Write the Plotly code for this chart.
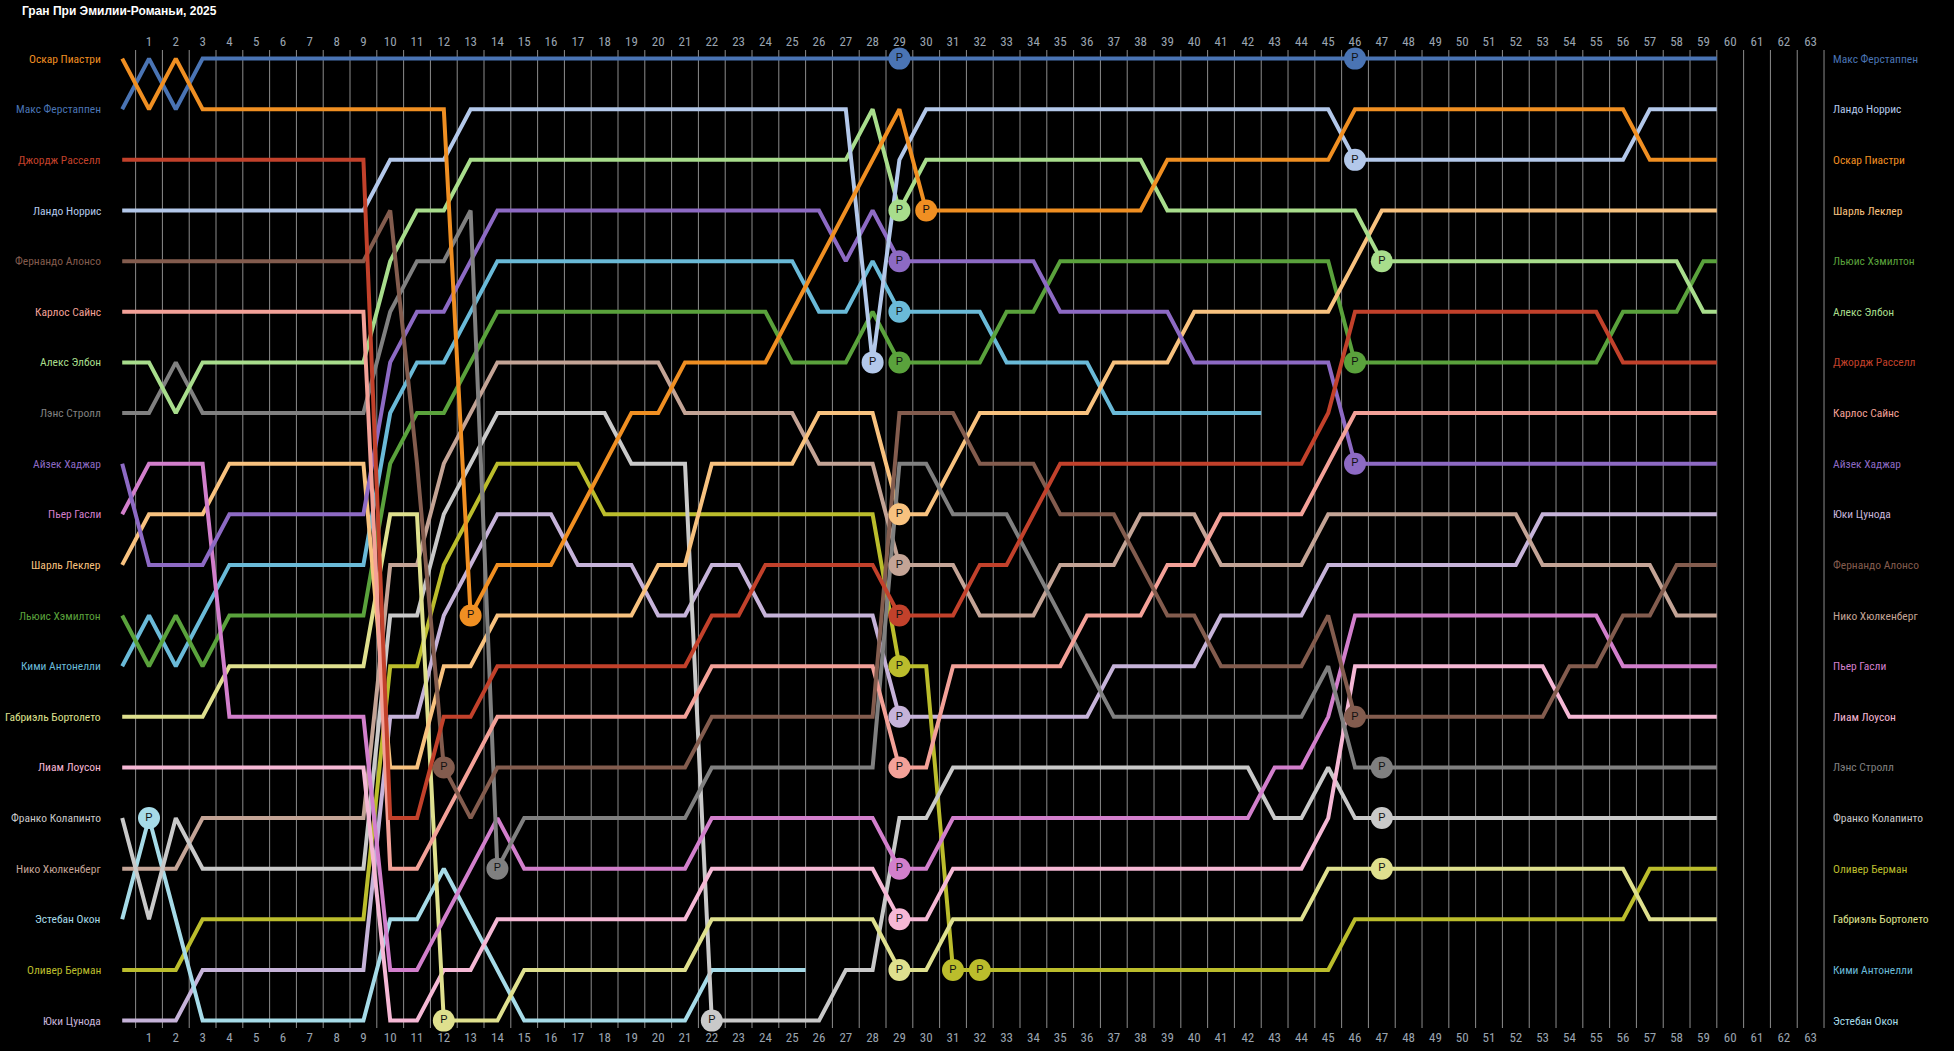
import plotly.graph_objects as go

title_text = "Гран При Эмилии-Романьи, 2025"

# grid order (lap 0)
drivers = ["Оскар Пиастри", "Макс Ферстаппен", "Джордж Расселл", "Ландо Норрис",
           "Фернандо Алонсо", "Карлос Сайнс", "Алекс Элбон", "Лэнс Стролл",
           "Айзек Хаджар", "Пьер Гасли", "Шарль Леклер", "Льюис Хэмилтон",
           "Кими Антонелли", "Габриэль Бортолето", "Лиам Лоусон", "Франко Колапинто",
           "Нико Хюлкенберг", "Эстебан Окон", "Оливер Берман", "Юки Цунода"]

final_order = ["Макс Ферстаппен", "Ландо Норрис", "Оскар Пиастри", "Шарль Леклер",
               "Льюис Хэмилтон", "Алекс Элбон", "Джордж Расселл", "Карлос Сайнс",
               "Айзек Хаджар", "Юки Цунода", "Фернандо Алонсо", "Нико Хюлкенберг",
               "Пьер Гасли", "Лиам Лоусон", "Лэнс Стролл", "Франко Колапинто",
               "Оливер Берман", "Габриэль Бортолето", "Кими Антонелли", "Эстебан Окон"]

lap_ticks = list(range(1, 64))

# positions by lap, starting at lap 0 (grid)
pos_piastri = [1,2,1,2,2,2,2,2,2,2, 2,2,2,12,11,11,11,10,9,8, 8,7,7,7,7,6,5,4,3,2,
               4,4,4,4,4,4,4,4,4,3, 3,3,3,3,3,3,2,2,2,2, 2,2,2,2,2,2,2,3,3,3]
pos_verstappen = [2,1,2,1,1,1,1,1,1,1, 1,1,1,1,1,1,1,1,1,1, 1,1,1,1,1,1,1,1,1,1,
                  1,1,1,1,1,1,1,1,1,1, 1,1,1,1,1,1,1,1,1,1, 1,1,1,1,1,1,1,1,1,1]
pos_russell = [3,3,3,3,3,3,3,3,3,3, 16,16,14,14,13,13,13,13,13,13, 13,13,12,12,11,11,11,11,11,12,
               12,12,11,11,10,9,9,9,9,9, 9,9,9,9,9,8,6,6,6,6, 6,6,6,6,6,6,7,7,7,7]
pos_norris = [4,4,4,4,4,4,4,4,4,4, 3,3,3,2,2,2,2,2,2,2, 2,2,2,2,2,2,2,2,7,3,
              2,2,2,2,2,2,2,2,2,2, 2,2,2,2,2,2,3,3,3,3, 3,3,3,3,3,3,3,2,2,2]
pos_alonso = [5,5,5,5,5,5,5,5,5,5, 4,9,15,16,15,15,15,15,15,15, 15,15,14,14,14,14,14,14,14,8,
              8,8,9,9,9,10,10,10,11,12, 12,13,13,13,13,12,14,14,14,14, 14,14,14,14,13,13,12,12,11,11]
pos_sainz = [6,6,6,6,6,6,6,6,6,6, 17,17,16,15,14,14,14,14,14,14, 14,14,13,13,13,13,13,13,13,15,
             15,13,13,13,13,13,12,12,12,11, 11,10,10,10,10,9,8,8,8,8, 8,8,8,8,8,8,8,8,8,8]
pos_albon = [7,7,8,7,7,7,7,7,7,7, 5,4,4,3,3,3,3,3,3,3, 3,3,3,3,3,3,3,3,2,4,
             3,3,3,3,3,3,3,3,3,4, 4,4,4,4,4,4,4,5,5,5, 5,5,5,5,5,5,5,5,5,6]
pos_stroll = [8,8,7,8,8,8,8,8,8,8, 6,5,5,4,17,16,16,16,16,16, 16,16,15,15,15,15,15,15,15,9,
              9,10,10,10,11,12,13,14,14,14, 14,14,14,14,14,13,15,15,15,15, 15,15,15,15,15,15,15,15,15,15]
pos_hadjar = [9,11,11,11,10,10,10,10,10,10, 7,6,6,5,4,4,4,4,4,4, 4,4,4,4,4,4,4,5,4,5,
              5,5,5,5,5,6,6,6,6,6, 7,7,7,7,7,7,9,9,9,9, 9,9,9,9,9,9,9,9,9,9]
pos_gasly = [10,9,9,9,14,14,14,14,14,14, 19,19,18,17,16,17,17,17,17,17, 17,17,16,16,16,16,16,16,16,17,
             17,16,16,16,16,16,16,16,16,16, 16,16,16,15,15,14,12,12,12,12, 12,12,12,12,12,12,13,13,13,13]
pos_leclerc = [11,10,10,10,9,9,9,9,9,9, 15,15,13,13,12,12,12,12,12,12, 11,11,9,9,9,9,8,8,8,10,
               10,9,8,8,8,8,8,7,7,7, 6,6,6,6,6,6,5,4,4,4, 4,4,4,4,4,4,4,4,4,4]
pos_hamilton = [12,13,12,13,12,12,12,12,12,12, 9,8,8,7,6,6,6,6,6,6, 6,6,6,6,6,7,7,7,6,7,
                7,7,7,6,6,5,5,5,5,5, 5,5,5,5,5,5,7,7,7,7, 7,7,7,7,7,7,6,6,6,5]
pos_antonelli = [13,12,13,12,11,11,11,11,11,11, 8,7,7,6,5,5,5,5,5,5, 5,5,5,5,5,5,6,6,5,6,
                 6,6,6,7,7,7,7,8,8,8, 8,8,8]
pos_bortoleto = [14,14,14,14,13,13,13,13,13,13, 10,10,20,20,20,19,19,19,19,19, 19,19,18,18,18,18,18,18,18,19,
                 19,18,18,18,18,18,18,18,18,18, 18,18,18,18,18,17,17,17,17,17, 17,17,17,17,17,17,17,18,18,18]
pos_lawson = [15,15,15,15,15,15,15,15,15,15, 20,20,19,19,18,18,18,18,18,18, 18,18,17,17,17,17,17,17,17,18,
              18,17,17,17,17,17,17,17,17,17, 17,17,17,17,17,16,13,13,13,13, 13,13,13,13,14,14,14,14,14,14]
pos_colapinto = [16,18,16,17,17,17,17,17,17,17, 12,12,10,9,8,8,8,8,8,9, 9,9,20,20,20,20,20,19,19,16,
                 16,15,15,15,15,15,15,15,15,15, 15,15,15,16,16,15,16,16,16,16, 16,16,16,16,16,16,16,16,16,16]
pos_hulkenberg = [17,17,17,16,16,16,16,16,16,16, 11,11,9,8,7,7,7,7,7,7, 7,8,8,8,8,8,9,9,9,11,
                  11,11,12,12,12,11,11,11,10,10, 10,11,11,11,11,10,10,10,10,10, 10,10,10,11,11,11,11,11,12,12]
pos_ocon = [18,16,18,20,20,20,20,20,20,20, 18,18,17,18,19,20,20,20,20,20, 20,20,19,19,19,19]
pos_bearman = [19,19,19,18,18,18,18,18,18,18, 13,13,11,10,9,9,9,9,10,10, 10,10,10,10,10,10,10,10,10,13,
               13,19,19,19,19,19,19,19,19,19, 19,19,19,19,19,19,18,18,18,18, 18,18,18,18,18,18,18,17,17,17]
pos_tsunoda = [20,20,20,19,19,19,19,19,19,19, 14,14,12,11,10,10,10,11,11,11, 12,12,11,11,12,12,12,12,12,14,
               14,14,14,14,14,14,14,13,13,13, 13,12,12,12,12,11,11,11,11,11, 11,11,11,10,10,10,10,10,10,10]

positions = [pos_piastri, pos_verstappen, pos_russell, pos_norris, pos_alonso, pos_sainz,
             pos_albon, pos_stroll, pos_hadjar, pos_gasly, pos_leclerc, pos_hamilton,
             pos_antonelli, pos_bortoleto, pos_lawson, pos_colapinto, pos_hulkenberg,
             pos_ocon, pos_bearman, pos_tsunoda]

# pit-stop laps
pits = [[13, 30], [29, 46], [29], [28, 46], [12, 46], [29], [29, 47], [14, 47], [29, 46], [29],
        [29], [29, 46], [29], [12, 29, 47], [29], [22, 47], [29], [1], [29, 31, 32], [29]]

colors = ["#f08f22", "#4a74b4", "#c2412b", "#b3c8ea", "#835c4e", "#f3a198", "#a8dd8c", "#808080",
          "#8d6ac4", "#d27fcc", "#f8c27f", "#5aa23c", "#6abad8", "#dfe08e", "#f5b8d5", "#c9c9c9",
          "#c4a496", "#a6dbe8", "#bbbd2c", "#c6b3d9"]

NARROW = "Roboto Condensed, Roboto, sans-serif"

fig = go.Figure()

for i in reversed(range(len(drivers))):
    p = positions[i]
    laps = list(range(len(p)))
    xs = laps + [laps[-1] + 0.5]
    ys = p + [p[-1]]
    fig.add_trace(go.Scatter(x=xs, y=ys, mode="lines", line=dict(color=colors[i], width=4),
                             showlegend=False, hoverinfo="skip"))

for i in range(len(drivers)):
    p = positions[i]
    fig.add_trace(go.Scatter(x=pits[i], y=[p[l] for l in pits[i]], mode="markers+text",
                             marker=dict(size=22, color=colors[i], line=dict(width=0)),
                             text=["P"] * len(pits[i]), textposition="middle center",
                             textfont=dict(family="Arial, Liberation Sans, sans-serif", size=11, color="#111"),
                             showlegend=False, hoverinfo="skip", cliponaxis=False))

fig.add_trace(go.Scatter(x=[lap_ticks[0]], y=[None], xaxis="x2", showlegend=False, hoverinfo="skip"))

shapes = []
for t in [0] + lap_ticks:
    shapes.append(dict(type="line", xref="x", yref="paper", x0=t + 0.5, x1=t + 0.5, y0=0, y1=1,
                       line=dict(color="#8c8c8c", width=1), layer="below"))

annotations = []
for i, name in enumerate(drivers):
    annotations.append(dict(x=0, y=positions[i][0], xref="x", yref="y", text=name, showarrow=False,
                            xanchor="right", yanchor="middle", xshift=-19,
                            font=dict(family=NARROW, size=11.5, color=colors[i])))
for k, name in enumerate(final_order):
    i = drivers.index(name)
    annotations.append(dict(x=lap_ticks[-1] + 0.5, y=k + 1, xref="x", yref="y", text=name, showarrow=False,
                            xanchor="left", yanchor="middle", xshift=7,
                            font=dict(family=NARROW, size=11.5, color=colors[i])))

axis_common = dict(tickvals=lap_ticks, ticktext=[str(t) for t in lap_ticks], ticks="",
                   showgrid=False, zeroline=False, showline=False, range=[-4.56, 68.35],
                   tickfont=dict(family=NARROW, size=13, color="#9aa4b0"))

fig.update_layout(
    width=1954, height=1051,
    margin=dict(l=0, r=0, t=50, b=23),
    paper_bgcolor="black", plot_bgcolor="black",
    title=dict(text=title_text, x=22 / 1954, xanchor="left", y=1 - 11 / 1051, yanchor="middle",
               font=dict(family="Liberation Sans, Arial, sans-serif", size=12, color="white", weight="bold")),
    xaxis=dict(side="bottom", **axis_common),
    xaxis2=dict(side="top", overlaying="x", **axis_common),
    yaxis=dict(range=[20.146, 0.830], showticklabels=False, showgrid=False, zeroline=False, showline=False),
    shapes=shapes, annotations=annotations,
)

fig.write_html("out.html", config={"displayModeBar": False},
               post_script="document.body.style.margin='0';document.body.style.background='black';")
